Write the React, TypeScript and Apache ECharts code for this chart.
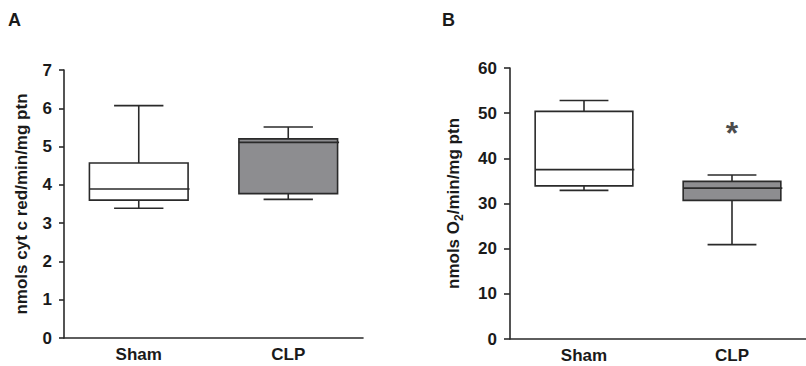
import React, { useEffect, useRef } from "react";
import * as echarts from "echarts";

// ---- data ----
const categories = ["Sham", "CLP"];
// [min, Q1, median, Q3, max]
const panelAStats = [
  [3.39, 3.6, 3.89, 4.57, 6.07],
  [3.62, 3.77, 5.11, 5.2, 5.51],
];
const panelBStats = [
  [32.9, 33.9, 37.5, 50.4, 52.8],
  [20.9, 30.7, 33.4, 34.9, 36.3],
];
const panelATicks = { min: 0, max: 7, interval: 1 };
const panelBTicks = { min: 0, max: 60, interval: 10 };
const asteriskPoint = [1, 47.0]; // CLP, panel B

const FONT = "'Liberation Sans', Arial, Helvetica, sans-serif";
const INK = "#2a2a2a";
const boxFills = ["#ffffff", "#8d8d90"];

function boxRenderer(params: any, api: any) {
  const cat = api.value(0);
  const pMin = api.coord([cat, api.value(1)]);
  const pQ1 = api.coord([cat, api.value(2)]);
  const pMed = api.coord([cat, api.value(3)]);
  const pQ3 = api.coord([cat, api.value(4)]);
  const pMax = api.coord([cat, api.value(5)]);
  const band = api.size([1, 0])[0];
  const half = (band * 0.66) / 2;
  const capHalf = (band * 0.33) / 2;
  const cx = pMed[0];
  const lineStyle = { stroke: INK, lineWidth: 1.6, fill: null };
  return {
    type: "group",
    children: [
      { type: "line", shape: { x1: cx, y1: pQ3[1], x2: cx, y2: pMax[1] }, style: lineStyle },
      { type: "line", shape: { x1: cx, y1: pQ1[1], x2: cx, y2: pMin[1] }, style: lineStyle },
      { type: "line", shape: { x1: cx - capHalf, y1: pMax[1], x2: cx + capHalf, y2: pMax[1] }, style: lineStyle },
      { type: "line", shape: { x1: cx - capHalf, y1: pMin[1], x2: cx + capHalf, y2: pMin[1] }, style: lineStyle },
      {
        type: "rect",
        shape: { x: cx - half, y: pQ3[1], width: half * 2, height: pQ1[1] - pQ3[1] },
        style: { fill: boxFills[cat], stroke: INK, lineWidth: 1.6 },
      },
      { type: "line", shape: { x1: cx - half, y1: pMed[1], x2: cx + half + 1.5, y2: pMed[1] }, style: lineStyle },
    ],
  };
}

function toData(stats: number[][]) {
  return stats.map((s, i) => [i, ...s]);
}

export default function App() {
  const ref = useRef<HTMLDivElement>(null);
  useEffect(() => {
    if (!ref.current) return;
    const chart = echarts.init(ref.current, null, { renderer: "svg" });
    const axisLine = { show: true, lineStyle: { color: INK, width: 1.6 } };
    const tickLabel = { color: "#1a1a1a", fontFamily: FONT, fontWeight: "bold" as const, fontSize: 17 };
    const xAxisCommon = {
      type: "category" as const,
      data: categories,
      boundaryGap: true,
      axisLine,
      axisTick: { show: false },
      axisLabel: { ...tickLabel, margin: 8 },
      splitLine: { show: false },
    };
    const yAxisCommon = {
      type: "value" as const,
      axisLine,
      axisTick: { show: true, length: 5, lineStyle: { color: INK, width: 1.6 } },
      splitLine: { show: false },
      nameLocation: "middle" as const,
    };
    chart.setOption({
      animation: false,
      backgroundColor: "#ffffff",
      textStyle: { fontFamily: FONT },
      grid: [
        { left: 64, top: 70, width: 299, height: 268 },
        { left: 510, top: 68, width: 298, height: 271 },
      ],
      xAxis: [
        { ...xAxisCommon, gridIndex: 0 },
        { ...xAxisCommon, gridIndex: 1 },
      ],
      yAxis: [
        {
          ...yAxisCommon,
          gridIndex: 0,
          ...panelATicks,
          axisLabel: { ...tickLabel, margin: 12 },
          name: "nmols cyt c red/min/mg ptn",
          nameGap: 34,
          nameTextStyle: { ...tickLabel },
        },
        {
          ...yAxisCommon,
          gridIndex: 1,
          ...panelBTicks,
          axisTick: { show: true, length: 6, lineStyle: { color: INK, width: 1.6 } },
          axisLabel: { ...tickLabel, margin: 13 },
          name: "{a|nmols O}{s|2}{a|/min/mg ptn}",
          nameGap: 48,
          nameTextStyle: {
            ...tickLabel,
            rich: {
              a: { ...tickLabel },
              s: { ...tickLabel, fontSize: 12, verticalAlign: "bottom", padding: [0, 0, -3, 0] },
            },
          },
        },
      ],
      series: [
        {
          type: "custom",
          xAxisIndex: 0,
          yAxisIndex: 0,
          renderItem: boxRenderer,
          encode: { x: 0, y: [1, 2, 3, 4, 5] },
          data: toData(panelAStats),
        },
        {
          type: "custom",
          xAxisIndex: 1,
          yAxisIndex: 1,
          renderItem: boxRenderer,
          encode: { x: 0, y: [1, 2, 3, 4, 5] },
          data: toData(panelBStats),
        },
        {
          type: "scatter",
          xAxisIndex: 1,
          yAxisIndex: 1,
          symbolSize: 0,
          data: [asteriskPoint],
          label: {
            show: true,
            position: "inside",
            formatter: "*",
            fontFamily: FONT,
            fontWeight: "bold",
            fontSize: 32,
            color: "#1a1a1a",
            offset: [0, 6],
          },
        },
      ],
      graphic: [
        { type: "text", left: 8, top: 11, style: { text: "A", font: `bold 18px ${FONT}`, fill: "#1a1a1a" } },
        { type: "text", left: 442, top: 11, style: { text: "B", font: `bold 18px ${FONT}`, fill: "#1a1a1a" } },
      ],
    });
    return () => chart.dispose();
  }, []);
  return (
    <div
      ref={ref}
      style={{ position: "absolute", left: 0, top: 0, width: 806, height: 366 }}
    />
  );
}
